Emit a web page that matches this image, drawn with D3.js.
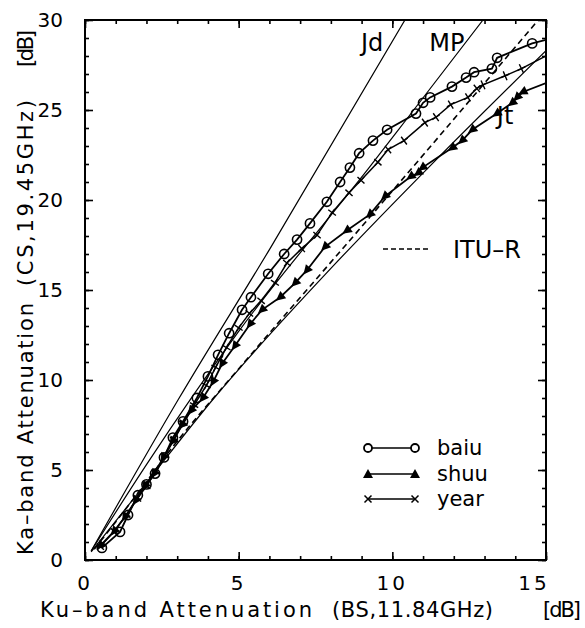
<!DOCTYPE html>
<html><head><meta charset="utf-8">
<script src="https://cdn.jsdelivr.net/npm/d3@7"></script>
<style>
body{margin:0;background:#fff}
text{font-family:"DejaVu Sans",Verdana,sans-serif;fill:#000}
</style>
</head><body>
<svg id="c" width="585" height="628"></svg>
<script>
// ---------- data ----------
const xTickLabels = [0, 5, 10, 15];
const yTickLabels = [0, 5, 10, 15, 20, 25, 30];
const seriesNames = ["baiu", "shuu", "year"];

// [Ku-band dB, Ka-band dB]; a point at x = 15 is the line's exit at the frame (no marker)
const baiu = [[0.55,0.67],[1.14,1.56],[1.40,2.5],[1.72,3.6],[2.0,4.2],[2.28,4.8],[2.57,5.7],[2.86,6.8],[3.19,7.7],[3.64,9.0],[4.0,10.2],[4.33,11.4],[4.69,12.6],[5.11,13.9],[5.40,14.6],[5.96,15.9],[6.48,17.0],[6.90,17.8],[7.32,18.7],[7.87,19.9],[8.30,21.0],[8.62,21.8],[8.92,22.6],[9.37,23.3],[9.83,23.9],[10.77,24.8],[11.0,25.4],[11.23,25.7],[11.94,26.3],[12.4,26.8],[12.66,27.1],[13.24,27.3],[13.41,27.9],[14.55,28.7],[15,28.9]];
const shuu = [[0.5,0.8],[0.95,1.6],[1.3,2.4],[1.65,3.3],[1.95,4.1],[2.25,4.8],[2.55,5.7],[2.85,6.6],[3.15,7.5],[3.45,8.3],[3.84,9.0],[4.17,9.9],[4.46,10.9],[4.88,11.9],[5.37,13.1],[5.76,13.9],[6.35,14.6],[6.84,15.4],[7.22,16.1],[7.81,17.4],[8.52,18.3],[9.27,19.2],[9.76,20.2],[10.6,21.3],[10.84,21.5],[10.98,21.8],[11.95,22.9],[12.27,23.3],[12.6,23.9],[13.4,24.8],[13.9,25.4],[14.06,25.7],[14.25,26.0],[15,26.5]];
const year = [[0.5,0.75],[0.95,1.6],[1.35,2.5],[1.7,3.4],[2.0,4.1],[2.3,4.9],[2.6,5.8],[2.9,6.7],[3.2,7.6],[3.55,8.6],[3.95,9.7],[4.25,10.7],[4.6,11.8],[5.0,12.9],[5.35,13.7],[5.73,14.4],[6.18,15.4],[6.57,16.5],[7.05,17.3],[7.55,18.05],[8.04,19.3],[8.59,20.4],[8.98,21.1],[9.53,22.1],[9.86,22.8],[10.38,23.3],[11.06,24.3],[11.42,24.6],[11.9,25.3],[12.46,25.7],[12.75,26.2],[12.95,26.4],[13.67,26.9],[14.2,27.3],[15,28.0]];

// reference relations
const jd   = [[0.2,0.5],[3.03,8.9],[6.02,17.3],[10.41,30]];
const mp   = [[0.2,0.5],[2,5.3],[5,12.7],[9.27,21.85],[10.47,24.5],[12.95,30]];
const jt   = [[0.2,0.45],[2,4.3],[4.2,9.0],[8,16.2],[11.23,21.9],[15,28.3]];
const itur = [[0.3,0.6],[1.4,3.0],[3,6.6],[5.04,10.7],[9.27,19.05],[14.7,29.9]];
const refNames = ["Jd", "MP", "Jt", "ITU\u2013R"];

// ---------- layout ----------
const svg = d3.select("#c");
const L = 85, R = 546, T = 20, B = 560;
const x = d3.scaleLinear().domain([0, 15]).range([L, R]);
const y = d3.scaleLinear().domain([0, 30]).range([B, T]);

// ticks (inside, all four sides)
const minorX = d3.range(0, 16), minorY = d3.range(0, 31);
function axes(gen, tr, vals, size) {
  const g = svg.append("g").attr("transform", tr)
    .call(gen.tickValues(vals).tickSize(size).tickFormat(""));
  g.select(".domain").remove();
  g.selectAll("line").attr("stroke", "#000").attr("stroke-width", 1.6);
}
axes(d3.axisBottom(x), `translate(0,${B})`, minorX, -4);
axes(d3.axisBottom(x), `translate(0,${B})`, xTickLabels, -8);
axes(d3.axisTop(x), `translate(0,${T})`, minorX, -4);
axes(d3.axisTop(x), `translate(0,${T})`, xTickLabels, -8);
axes(d3.axisLeft(y), `translate(${L},0)`, minorY, -4);
axes(d3.axisLeft(y), `translate(${L},0)`, yTickLabels, -8);
axes(d3.axisRight(y), `translate(${R},0)`, minorY, -4);
axes(d3.axisRight(y), `translate(${R},0)`, yTickLabels, -8);

svg.append("rect").attr("x", L).attr("y", T).attr("width", R - L).attr("height", B - T)
  .attr("fill", "none").attr("stroke", "#000").attr("stroke-width", 2);

// tick labels
svg.append("g").selectAll("text").data(xTickLabels).join("text")
  .attr("x", d => d === 15 ? x(d) - 12 : x(d)).attr("y", 590)
  .attr("text-anchor", "middle").attr("font-size", 20).attr("letter-spacing", 3)
  .text(d => d);
svg.append("g").selectAll("text").data(yTickLabels).join("text")
  .attr("x", 63).attr("y", d => y(d)).attr("dy", "0.36em")
  .attr("text-anchor", "end").attr("font-size", 20)
  .text(d => d);

// axis titles (pieces spaced as in the reference)
function piece(g, tr, txt, len) {
  g.append("text").attr("transform", tr).attr("textLength", len)
    .attr("lengthAdjust", "spacing").text(txt);
}
const xt = svg.append("g").attr("font-size", 21);
piece(xt, "translate(40,617)", "Ku\u2013band Attenuation", 272);
piece(xt, "translate(332,617)", "(BS,11.84GHz)", 161);
piece(xt, "translate(543,617)", "[dB]", 38);
const yt = svg.append("g").attr("font-size", 21);
piece(yt, "translate(33,555) rotate(-90)", "Ka\u2013band Attenuation", 252);
piece(yt, "translate(33,286) rotate(-90)", "(CS,19.45GHz)", 186);
piece(yt, "translate(33,67) rotate(-90)", "[dB]", 37);

// clip for plot
svg.append("clipPath").attr("id", "clip").append("rect")
  .attr("x", L).attr("y", T).attr("width", R - L).attr("height", B - T);
const plot = svg.append("g").attr("clip-path", "url(#clip)");
const line = d3.line().x(d => x(d[0])).y(d => y(d[1]));
const smooth = d3.line().x(d => x(d[0])).y(d => y(d[1])).curve(d3.curveMonotoneX);

// reference lines
[jd, mp, jt].forEach(d => plot.append("path").attr("d", smooth(d))
  .attr("fill", "none").attr("stroke", "#000").attr("stroke-width", 1.2));
plot.append("path").attr("d", smooth(itur))
  .attr("fill", "none").attr("stroke", "#000").attr("stroke-width", 1.6).attr("stroke-dasharray", "6,4");

// reference labels (data coords)
const refLabelPos = [[8.98, 28.3], [11.2, 28.3], [13.4, 24.2]];
refNames.slice(0, 3).forEach((n, i) => svg.append("text")
  .attr("x", x(refLabelPos[i][0])).attr("y", y(refLabelPos[i][1]))
  .attr("font-size", 24).text(n));
svg.append("line").attr("x1", 383).attr("x2", 430).attr("y1", 249).attr("y2", 249)
  .attr("stroke", "#000").attr("stroke-width", 1.6).attr("stroke-dasharray", "5,3");
svg.append("text").attr("x", 453).attr("y", 258).attr("font-size", 24).text(refNames[3]);

// series
const seriesData = [baiu, shuu, year];
const widths = [1.8, 1.8, 1.5];
seriesData.forEach((d, i) => plot.append("path").attr("d", line(d))
  .attr("fill", "none").attr("stroke", "#000").attr("stroke-width", widths[i]));

function ang(arr, i) {
  const a = arr[Math.max(0, i - 1)], b = arr[Math.min(arr.length - 1, i + 1)];
  return Math.atan2(y(b[1]) - y(a[1]), x(b[0]) - x(a[0])) * 180 / Math.PI;
}
const marked = arr => arr.map((d, i) => ({d, i})).filter(o => o.d[0] < 15);

plot.append("g").selectAll("circle").data(marked(baiu)).join("circle")
  .attr("cx", o => x(o.d[0])).attr("cy", o => y(o.d[1])).attr("r", 4.6)
  .attr("fill", "none").attr("stroke", "#000").attr("stroke-width", 1.6);
plot.append("g").selectAll("path").data(marked(shuu)).join("path")
  .attr("d", "M5.5,0L-4,-4.6L-4,4.6Z")
  .attr("transform", o => `translate(${x(o.d[0])},${y(o.d[1])}) rotate(${ang(shuu, o.i) + 180})`)
  .attr("fill", "#000");
plot.append("g").selectAll("path").data(marked(year)).join("path")
  .attr("d", "M-4.5,0L4.5,0M0,-4.8L0,4.8")
  .attr("transform", o => `translate(${x(o.d[0])},${y(o.d[1])}) rotate(${ang(year, o.i)})`)
  .attr("stroke", "#000").attr("stroke-width", 1.4);

// legend
const lg = svg.append("g");
const rows = [448, 474, 499];
seriesNames.forEach((n, i) => {
  lg.append("line").attr("x1", 368).attr("x2", 415).attr("y1", rows[i]).attr("y2", rows[i])
    .attr("stroke", "#000").attr("stroke-width", 1.6);
  lg.append("text").attr("x", 437).attr("y", rows[i] + 7).attr("font-size", 21).text(n);
  [368, 415].forEach(px => {
    if (i === 0) lg.append("circle").attr("cx", px).attr("cy", rows[i]).attr("r", 4)
      .attr("fill", "#fff").attr("stroke", "#000").attr("stroke-width", 1.8);
    if (i === 1) lg.append("path").attr("d", "M0,-5L5,4L-5,4Z")
      .attr("transform", `translate(${px},${rows[i]})`).attr("fill", "#000");
    if (i === 2) lg.append("path").attr("d", "M-3.5,-3.5L3.5,3.5M-3.5,3.5L3.5,-3.5")
      .attr("transform", `translate(${px},${rows[i]})`).attr("stroke", "#000").attr("stroke-width", 1.5);
  });
});
</script>
</body></html>
